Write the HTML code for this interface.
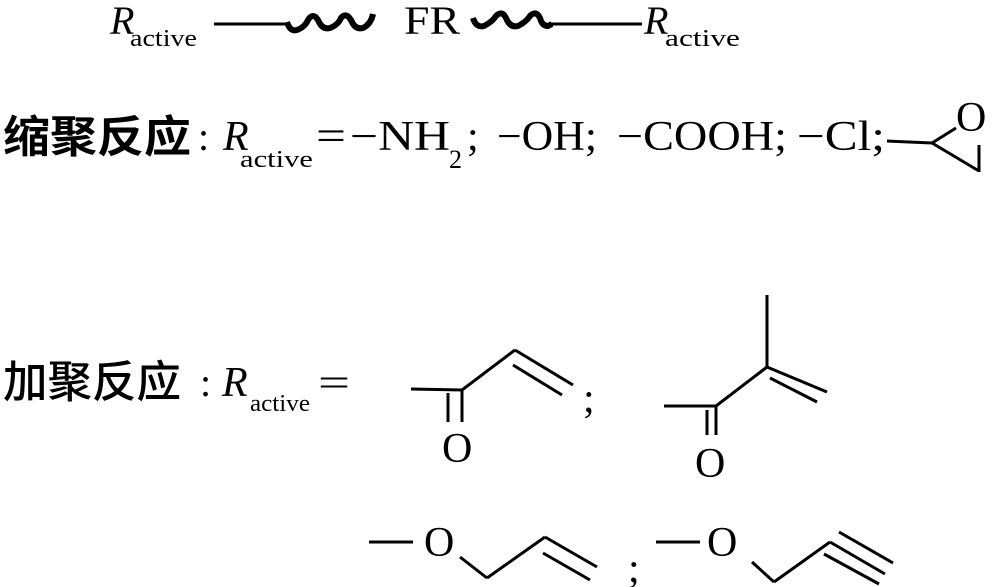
<!DOCTYPE html>
<html><head><meta charset="utf-8"><style>
html,body{margin:0;padding:0;background:#fff;}
svg{display:block}
text{font-family:"Liberation Serif","Noto Serif CJK SC",serif;fill:#000}
.cn{font-family:"Noto Sans CJK SC","WenQuanYi Zen Hei",sans-serif;font-weight:700}
.cn2{font-family:"Noto Sans CJK SC","WenQuanYi Zen Hei",sans-serif;font-weight:500}
</style></head><body>
<svg width="1000" height="587" viewBox="0 0 1000 587" xmlns="http://www.w3.org/2000/svg">
<g stroke="#000" fill="none" stroke-linecap="butt">
<line x1="214" y1="24" x2="287" y2="24" stroke-width="3"/>
<path d="M287 22 Q290 32 297 30 Q305 27 308 20 Q313 12 318 20 Q322 30 330 28 Q338 25 341 18 Q346 12 351 20 Q355 30 363 28 Q371 24 373 14" stroke-width="6"/>
<path d="M473 18 Q476 28 484 26 Q492 22 496 16 Q502 10 506 18 Q510 28 518 26 Q526 22 530 16 Q536 10 540 18 Q542 26 548 26 L552 24" stroke-width="6"/>
<line x1="550" y1="24" x2="642" y2="24" stroke-width="3"/>
<line x1="887" y1="141" x2="932" y2="143" stroke-width="3"/>
<line x1="932" y1="143" x2="956" y2="128" stroke-width="3"/>
<line x1="932" y1="143" x2="979" y2="171" stroke-width="3"/>
<line x1="979" y1="172" x2="979" y2="145" stroke-width="3"/>
<line x1="411" y1="389" x2="462" y2="390" stroke-width="3"/>
<line x1="462" y1="389" x2="462" y2="422" stroke-width="3"/>
<line x1="448" y1="393" x2="448" y2="422" stroke-width="3"/>
<line x1="462" y1="390" x2="515" y2="350" stroke-width="3"/>
<line x1="515" y1="350" x2="573" y2="385" stroke-width="3"/>
<line x1="513" y1="365" x2="562" y2="395" stroke-width="3"/>
<line x1="664" y1="406" x2="716" y2="406" stroke-width="3"/>
<line x1="716" y1="406" x2="716" y2="435" stroke-width="3"/>
<line x1="707" y1="410" x2="707" y2="435" stroke-width="3"/>
<line x1="716" y1="406" x2="767" y2="367" stroke-width="3"/>
<line x1="767" y1="367" x2="767" y2="295" stroke-width="3"/>
<line x1="767" y1="367" x2="827" y2="392" stroke-width="3"/>
<line x1="770" y1="378" x2="817" y2="402" stroke-width="3"/>
<line x1="369" y1="542" x2="413" y2="542" stroke-width="3"/>
<line x1="460" y1="557" x2="487" y2="578" stroke-width="3"/>
<line x1="487" y1="578" x2="545" y2="537" stroke-width="3"/>
<line x1="545" y1="537" x2="597" y2="567" stroke-width="3"/>
<line x1="543" y1="553" x2="590" y2="580" stroke-width="3"/>
<line x1="656" y1="542" x2="700" y2="542" stroke-width="3"/>
<line x1="752" y1="562" x2="774" y2="582" stroke-width="3"/>
<line x1="774" y1="582" x2="830" y2="542" stroke-width="3"/>
<line x1="830" y1="542" x2="885" y2="574" stroke-width="3"/>
<line x1="839" y1="532" x2="893" y2="563" stroke-width="3"/>
<line x1="824" y1="554" x2="879" y2="584" stroke-width="3"/>
</g>
<text x="110" y="34" font-size="40" font-style="italic">R</text>
<text x="130" y="46" font-size="24" textLength="67" lengthAdjust="spacingAndGlyphs">active</text>
<text x="404" y="34" font-size="40" textLength="56" lengthAdjust="spacingAndGlyphs">FR</text>
<text x="644" y="34" font-size="40" font-style="italic">R</text>
<text x="665" y="46" font-size="24" textLength="75" lengthAdjust="spacingAndGlyphs">active</text>

<text x="3" y="152" font-size="44" class="cn" textLength="188" lengthAdjust="spacingAndGlyphs">缩聚反应</text>
<text x="198" y="150" font-size="40">:</text>
<text x="223" y="150" font-size="42" font-style="italic">R</text>
<text x="240" y="167" font-size="24" textLength="73" lengthAdjust="spacingAndGlyphs">active</text>
<text x="316" y="150" font-size="42" textLength="30" lengthAdjust="spacingAndGlyphs">=</text>
<text x="350" y="150" font-size="42" textLength="100" lengthAdjust="spacingAndGlyphs">−NH</text>
<text x="449" y="168" font-size="26">2</text>
<text x="467" y="150" font-size="42">;</text>
<text x="497" y="150" font-size="42" textLength="100" lengthAdjust="spacingAndGlyphs">−OH;</text>
<text x="617" y="150" font-size="42" textLength="170" lengthAdjust="spacingAndGlyphs">−COOH;</text>
<text x="797" y="150" font-size="42" textLength="88" lengthAdjust="spacingAndGlyphs">−Cl;</text>
<text x="956" y="131" font-size="42">O</text>

<text x="3" y="397" font-size="44" class="cn2" textLength="178" lengthAdjust="spacingAndGlyphs">加聚反应</text>
<text x="200" y="396" font-size="40">:</text>
<text x="222" y="396" font-size="42" font-style="italic">R</text>
<text x="250" y="411" font-size="24" textLength="60" lengthAdjust="spacingAndGlyphs">active</text>
<text x="318" y="396" font-size="40" textLength="32" lengthAdjust="spacingAndGlyphs">=</text>
<text x="442" y="462" font-size="42">O</text>
<text x="583" y="412" font-size="42">;</text>
<text x="695" y="477" font-size="42">O</text>
<text x="424" y="556" font-size="42">O</text>
<text x="628" y="582" font-size="42">;</text>
<text x="707" y="556" font-size="42">O</text>
</svg>
</body></html>
